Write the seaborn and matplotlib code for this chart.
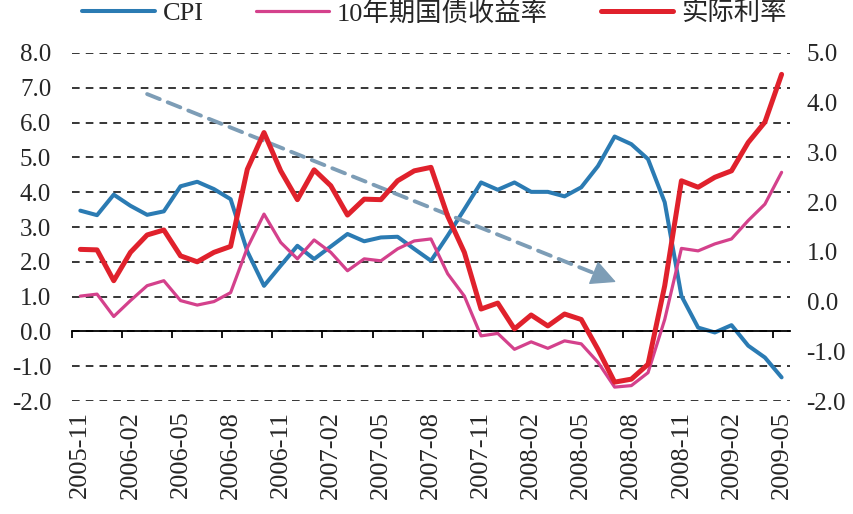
import numpy as np
import pandas as pd
import matplotlib
matplotlib.use("Agg")
import matplotlib.pyplot as plt
import seaborn as sns

sns.set_style("white")
plt.rcParams['font.family'] = ['Liberation Serif', 'Noto Sans CJK SC', 'DejaVu Sans']
plt.rcParams['axes.unicode_minus'] = True

# monthly data 2005-11 .. 2009-05
months = pd.period_range("2005-11", "2009-05", freq="M").strftime("%Y-%m").tolist()

cpi = [3.47, 3.34, 3.93, 3.61, 3.35, 3.45, 4.17, 4.30, 4.09, 3.80,
       2.30, 1.31, 1.89, 2.46, 2.08, 2.44, 2.80, 2.59, 2.70, 2.72,
       2.37, 2.03, 2.75, 3.51, 4.28, 4.07, 4.28, 4.01, 4.01, 3.88,
       4.14, 4.75, 5.60, 5.38, 4.95, 3.71, 1.02, 0.11, -0.03, 0.18,
       -0.41, -0.75, -1.32]

bond_10y = [0.11, 0.15, -0.30, 0.02, 0.32, 0.42, 0.02, -0.07, 0.00, 0.18,
            1.08, 1.76, 1.19, 0.86, 1.24, 0.99, 0.62, 0.86, 0.82, 1.06,
            1.22, 1.26, 0.56, 0.11, -0.69, -0.64, -0.96, -0.81, -0.94, -0.79,
            -0.85, -1.22, -1.72, -1.69, -1.43, -0.36, 1.07, 1.02, 1.16, 1.26,
            1.63, 1.96, 2.60]

real_rate = [1.05, 1.04, 0.42, 0.99, 1.34, 1.44, 0.92, 0.80, 0.99, 1.11,
             2.66, 3.40, 2.63, 2.05, 2.65, 2.33, 1.74, 2.06, 2.05, 2.43,
             2.63, 2.70, 1.72, 0.99, -0.15, -0.03, -0.55, -0.27, -0.49, -0.25,
             -0.36, -0.96, -1.62, -1.56, -1.26, 0.32, 2.43, 2.30, 2.50, 2.63,
             3.20, 3.61, 4.57]

left_ticks = [-2, -1, 0, 1, 2, 3, 4, 5, 6, 7, 8]
right_ticks = [-2, -1, 0, 1, 2, 3, 4, 5]

df = pd.DataFrame({"idx": np.arange(len(months)), "month": months,
                   "CPI": cpi, "bond": bond_10y, "real": real_rate})

fig, ax = plt.subplots(figsize=(8.54, 5.14), dpi=100)
fig.subplots_adjust(left=0.0843, right=0.925, bottom=0.2198, top=0.8969)
ax2 = ax.twinx()

sns.lineplot(data=df, x="idx", y="CPI", ax=ax, color="#2b7bb3", linewidth=2.9, label="CPI")
sns.lineplot(data=df, x="idx", y="bond", ax=ax2, color="#d4418c", linewidth=2.3, label="10年期国债收益率")
sns.lineplot(data=df, x="idx", y="real", ax=ax2, color="#e0212c", linewidth=3.6, label="实际利率")

ax.set_ylim(-2, 8)
ax2.set_ylim(-2, 5)
ax.set_xlim(-0.5, len(months) - 0.5)
ax.set_yticks(left_ticks)
ax2.set_yticks(right_ticks)
ax.yaxis.set_major_formatter(matplotlib.ticker.FormatStrFormatter("%.1f"))
ax2.yaxis.set_major_formatter(matplotlib.ticker.FormatStrFormatter("%.1f"))
ax.tick_params(axis="y", length=0, labelsize=18, pad=15)
ax2.tick_params(axis="y", length=0, labelsize=18, pad=12)
ax.set_xlabel("")
ax.set_ylabel("")
ax2.set_ylabel("")

ax.yaxis.grid(True, linestyle=(0, (5, 4)), color="black", linewidth=1.1)
ax.set_axisbelow(True)

for s in ["left", "right", "top"]:
    ax.spines[s].set_visible(False)
for s in ax2.spines.values():
    s.set_visible(False)
ax.spines["bottom"].set_position(("data", 0))
ax.spines["bottom"].set_color("black")
ax.spines["bottom"].set_linewidth(1.3)

# tick marks between months on the zero line
ax.set_xticks(np.arange(-0.5, len(months) - 1, 3))
ax.tick_params(axis="x", direction="out", length=5, width=1.3, color="black", labelbottom=False, bottom=True)

# labels at the bottom
sec = ax.secondary_xaxis("bottom")
sec.set_xticks(df["idx"][::3], df["month"][::3])
sec.tick_params(length=0, rotation=90, labelsize=19, pad=7)
sec.spines["bottom"].set_visible(False)

# trend arrow: dashed shaft + solid head
arrow_col = "#7d9db6"
ax.annotate("", xy=(30.74, 1.68), xytext=(4, 6.82),
            arrowprops=dict(arrowstyle="-", color=arrow_col, lw=2.8,
                            linestyle=(0, (3.5, 2.2)), shrinkA=0, shrinkB=0))
ax.annotate("", xy=(32.08, 1.42), xytext=(30.6, 1.71),
            arrowprops=dict(arrowstyle="-|>,head_length=0.8,head_width=0.4",
                            mutation_scale=20, color=arrow_col, lw=1.0,
                            shrinkA=0, shrinkB=0))

h1, l1 = ax.get_legend_handles_labels()
h2, l2 = ax2.get_legend_handles_labels()
ax.get_legend().remove()
ax2.get_legend().remove()
fig.legend(h1 + h2, l1 + l2, loc="center left", bbox_to_anchor=(82 / 854, 1 - 13 / 514), ncol=3,
           frameon=False, fontsize=19, handlelength=2.75, handletextpad=0.3, columnspacing=2.0,
           borderpad=0, borderaxespad=0)

fig.savefig("out.png", dpi=100)
